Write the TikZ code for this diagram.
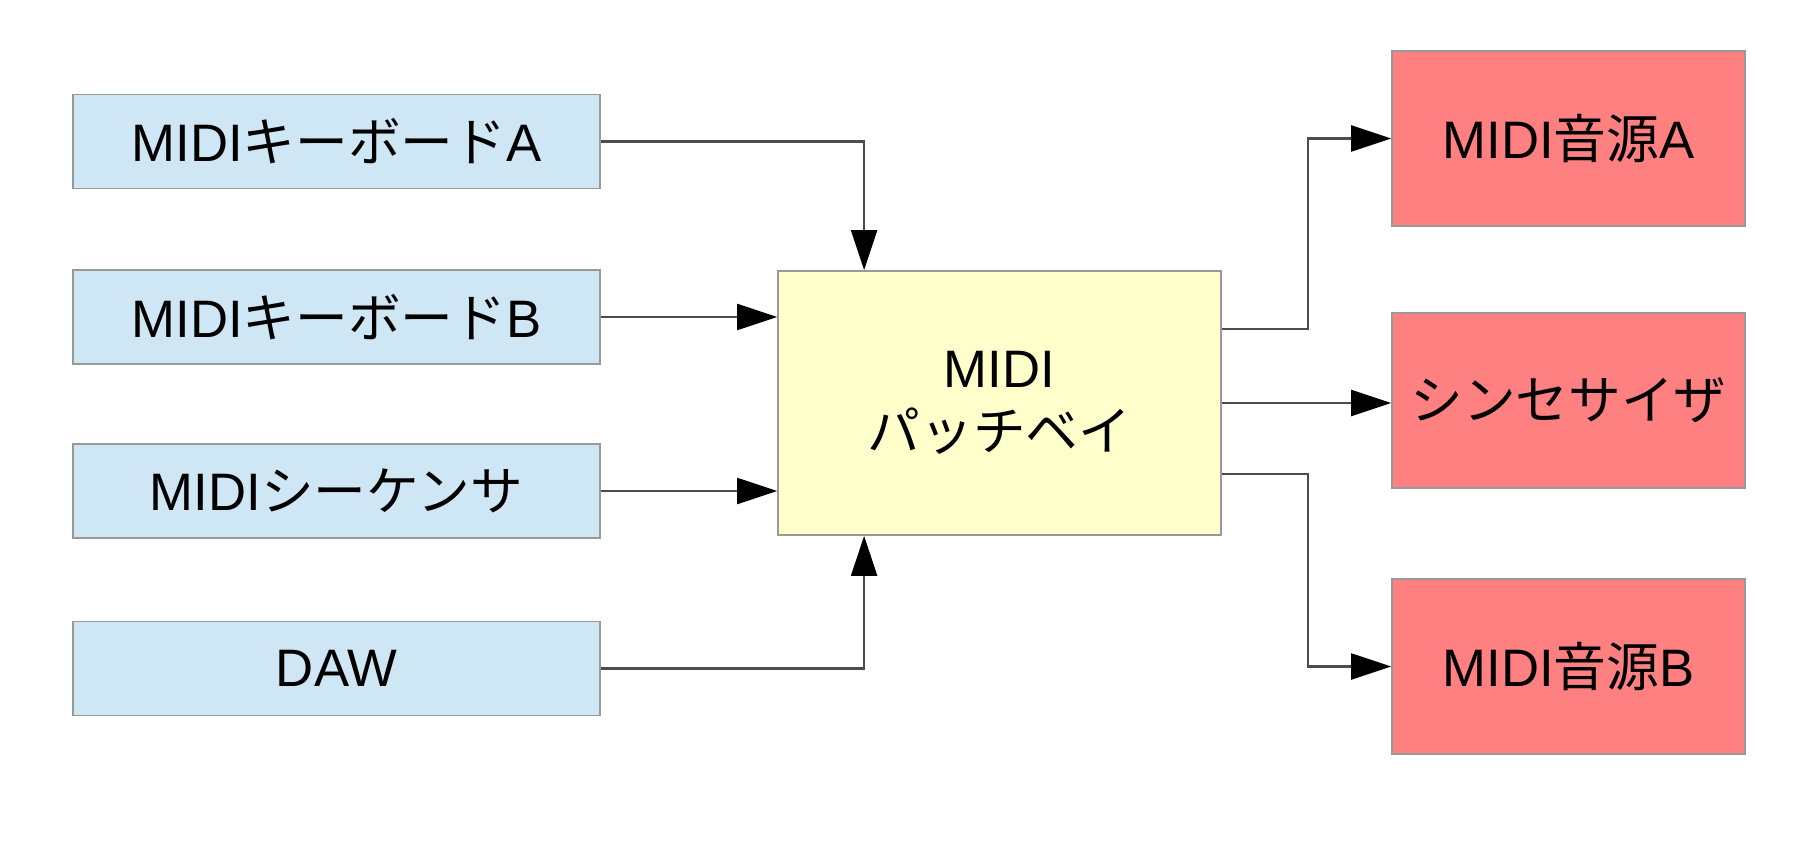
\documentclass[tikz,border=0pt]{standalone}
\usepackage{fontspec}
\setmainfont{Liberation Sans}
\newfontfamily\jpfont{Noto Sans CJK JP}
\usepackage{tikz}
\usetikzlibrary{arrows.meta,positioning}
\definecolor{inblue}{RGB}{207,231,244}
\definecolor{bayyellow}{RGB}{255,255,204}
\definecolor{outred}{RGB}{255,128,128}
\tikzset{
  box/.style={draw=black!40,line width=0.5pt,inner sep=0pt,font=\fontsize{15}{18}\selectfont},
  inbox/.style={box,fill=inblue,minimum width=5.27cm,minimum height=0.94cm},
  outbox/.style={box,fill=outred,minimum width=3.53cm,minimum height=1.75cm},
  link/.style={draw=black!70,line width=0.6pt,-{Triangle[length=4mm,width=2.6mm,black]}},
}

\begin{document}
\begin{tikzpicture}
          \useasboundingbox (0,0) rectangle (18.19,8.54);
          % inputs
          \node [inbox] (kbA) at (3.365,7.125) {MIDI{\jpfont キーボード}A};
          \node [inbox] (kbB) at (3.365,5.37) {MIDI{\jpfont キーボード}B};
          \node [inbox] (seq) at (3.365,3.63) {MIDI{\jpfont シーケンサ}};
          \node [inbox] (daw) at (3.365,1.855) {DAW};
          % patch bay
          \node [box,fill=bayyellow,align=center,minimum width=4.43cm,minimum height=2.64cm] (bay) at (9.995,4.51) {MIDI\\{\jpfont パッチベイ}};
          % outputs
          \node [outbox] (srcA) at (15.685,7.155) {MIDI{\jpfont 音源}A};
          \node [outbox] (synth) at (15.685,4.535) {\jpfont シンセサイザ};
          \node [outbox] (srcB) at (15.685,1.875) {MIDI{\jpfont 音源}B};
          \draw [link] (kbA.east) -| ([xshift=0.87cm]bay.north west);
          \draw [link] (kbB.east) -- (kbB.east -| bay.west);
          \draw [link] (seq.east) -- (seq.east -| bay.west);
          \draw [link] (daw.east) -| ([xshift=0.87cm]bay.south west);
          \draw [link] ([yshift=0.74cm]bay.east) -- ++(0.86,0) |- (srcA.west);
          \draw [link] (bay.east) -- (bay.east -| synth.west);
          \draw [link] ([yshift=-0.71cm]bay.east) -- ++(0.86,0) |- (srcB.west);
        \end{tikzpicture}
\end{document}
